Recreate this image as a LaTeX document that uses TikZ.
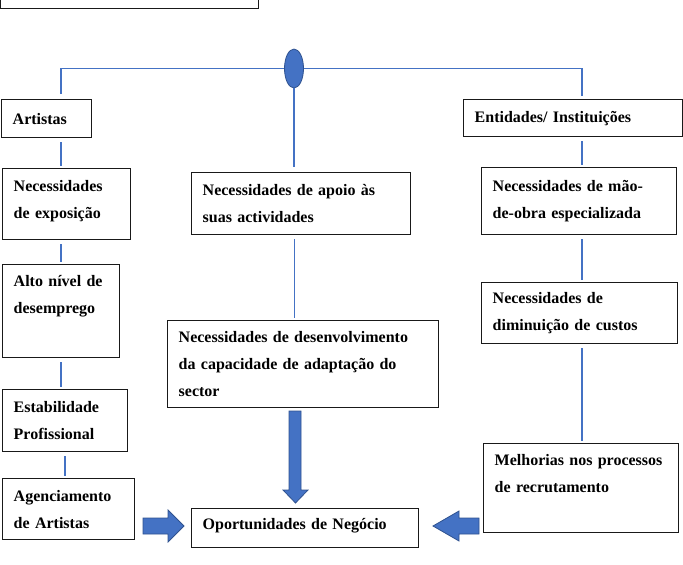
\documentclass[tikz,border=0pt]{standalone}
\usepackage{fontspec}
\setmainfont{Liberation Serif}
\usetikzlibrary{shapes.geometric}

\definecolor{azul}{HTML}{4472C4}
\definecolor{azulescuro}{HTML}{2F528F}

\begin{document}
\begin{tikzpicture}[x=1pt,y=-1pt,
		caixa/.style={draw=black!90, line width=1.4pt, anchor=north west, align=left,
			inner xsep=11pt, inner ysep=0pt, font=\fontsize{16}{27}\selectfont\bfseries},
		ligacao/.style={draw=azul, line width=1.3pt, shorten <=4pt, shorten >=2pt},
		seta/.style={fill=azul, draw=azulescuro, line width=0.8pt},
		nucleo/.style={ellipse, fill=azul, draw=azulescuro, line width=0.8pt,
			minimum width=19pt, minimum height=39pt, inner sep=0pt}]
		\useasboundingbox (0,0) rectangle (683,565);
		\node[caixa, anchor=south west, minimum width=258pt, minimum height=40pt] (titulo) at (0,9) {};
		\node[nucleo] (nucleo) at (294,68.5) {};
		\node[caixa, minimum width=90pt, minimum height=38pt, text width=68pt] (artistas) at (1,99) {Artistas};
		\node[caixa, minimum width=219pt, minimum height=37pt, text width=197pt] (entid) at (463,99) {Entidades/ Instituições};
		\node[caixa, minimum width=128pt, minimum height=71pt, text width=106pt, text depth=36pt] (nexp) at (2,168) {Necessidades\\de exposição};
		\node[caixa, minimum width=117pt, minimum height=93pt, text width=95pt, text depth=61pt] (alto) at (2,264) {Alto nível de\\desemprego};
		\node[caixa, minimum width=125pt, minimum height=62pt, text width=103pt] (estab) at (2,389) {Estabilidade\\Profissional};
		\node[caixa, minimum width=132pt, minimum height=61pt, text width=110pt] (agenc) at (2,478) {Agenciamento\\de Artistas};
		\node[caixa, minimum width=219pt, minimum height=62pt, text width=197pt] (apoio) at (191,172) {Necessidades de apoio às\\suas actividades};
		\node[caixa, minimum width=271pt, minimum height=87pt, text width=249pt] (desenv) at (167,320) {Necessidades de desenvolvimento\\da capacidade de adaptação do\\sector};
		\node[caixa, minimum width=195pt, minimum height=67pt, text width=173pt] (mao) at (481,167) {Necessidades de mão-\\de-obra especializada};
		\node[caixa, minimum width=196pt, minimum height=61pt, text width=174pt] (dimin) at (481,282) {Necessidades de\\diminuição de custos};
		\node[caixa, minimum width=195pt, minimum height=89pt, text width=173pt, text depth=56pt] (melh) at (483,443) {Melhorias nos processos\\de recrutamento};
		\node[caixa, minimum width=227pt, minimum height=39pt, text width=205pt, text depth=8pt] (opor) at (191,508) {Oportunidades de Negócio};
		\coordinate (esq) at (61,0);
		\coordinate (esq2) at (65,0);
		\coordinate (dir) at (582,0);
		\coordinate (meio) at (294.5,0);
		\draw[ligacao, shorten >=0pt, shorten <=5pt] (artistas.north -| esq) |- (nucleo);
		\draw[ligacao, shorten <=0pt, shorten >=3pt] (nucleo) -| (entid.north -| dir);
		\draw[ligacao, shorten <=0pt, shorten >=5pt] (nucleo) -- (apoio.north -| nucleo);
		\foreach \a/\b in {artistas/nexp, nexp/alto, alto/estab}{
			\draw[ligacao] (\a.south -| esq) -- (\b.north -| esq);
		}
		\draw[ligacao] (estab.south -| esq2) -- (agenc.north -| esq2);
		\foreach \a/\b in {entid/mao, mao/dimin, dimin/melh}{
			\draw[ligacao] (\a.south -| dir) -- (\b.north -| dir);
		}
		\draw[ligacao] (apoio.south -| meio) -- (desenv.north -| meio);
		\draw[seta] (143,518) -- (168,518) -- (168,510) -- (184,526) -- (168,542) -- (168,534) -- (143,534) -- cycle;
		\draw[seta] (479,518) -- (459,518) -- (459,511) -- (433,526) -- (459,541) -- (459,534) -- (479,534) -- cycle;
		\draw[seta] (289,411) -- (301,411) -- (301,490) -- (308,490) -- (295.5,503) -- (283,490) -- (289,490) -- cycle;
\end{tikzpicture}
\end{document}
